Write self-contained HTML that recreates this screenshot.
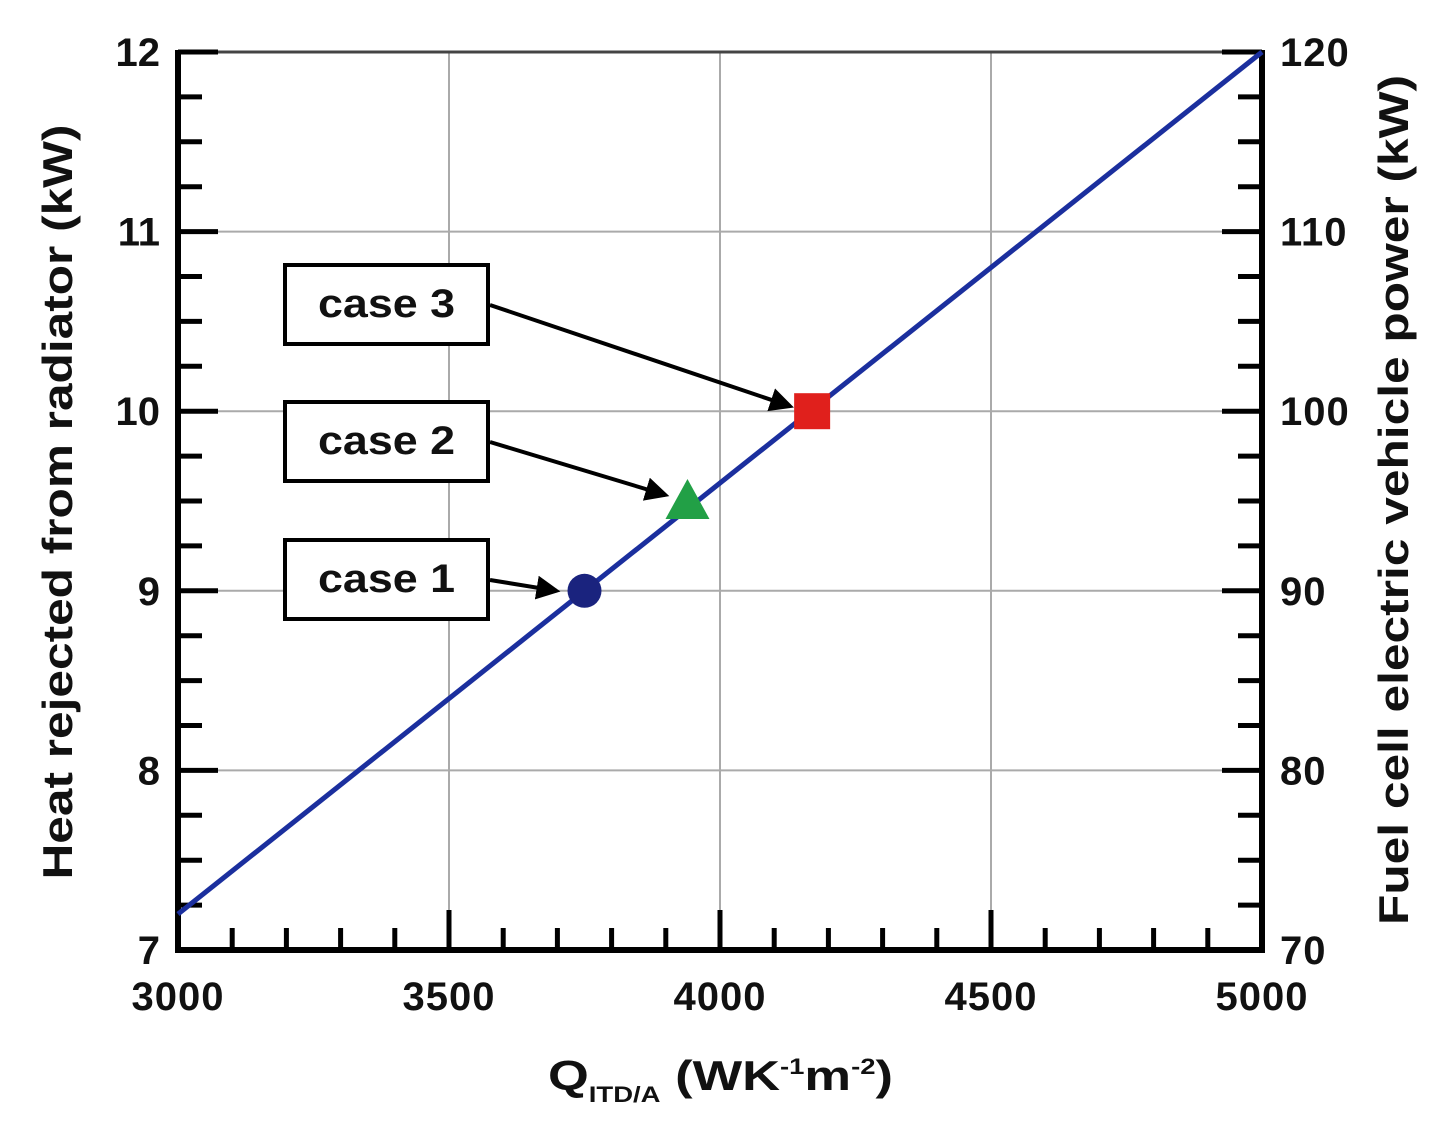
<!DOCTYPE html>
<html><head><meta charset="utf-8"><style>
body{margin:0;background:#fff;}
svg{display:block;font-family:"Liberation Sans",Arial,sans-serif;}
</style></head><body>
<svg id="chart" width="1440" height="1131" viewBox="0 0 1440 1131" xmlns="http://www.w3.org/2000/svg">
<g id="grid"></g>
<g id="axes"></g>
<g id="series"></g>
<g id="annot"></g>
<text x="548" y="1090" font-size="42" font-weight="bold" fill="#111" textLength="345" lengthAdjust="spacingAndGlyphs">Q<tspan font-size="22" dy="12">ITD/A</tspan><tspan dy="-12"> (WK</tspan><tspan font-size="22" dy="-16">-1</tspan><tspan dy="16">m</tspan><tspan font-size="22" dy="-16">-2</tspan><tspan dy="16">)</tspan></text>
<text transform="translate(72,502) rotate(-90)" text-anchor="middle" font-size="42" font-weight="bold" fill="#111" textLength="755" lengthAdjust="spacingAndGlyphs">Heat rejected from radiator (kW)</text>
<text transform="translate(1408,500) rotate(-90)" text-anchor="middle" font-size="42" font-weight="bold" fill="#111" textLength="850" lengthAdjust="spacingAndGlyphs">Fuel cell electric vehicle power (kW)</text>
</svg>
<script>
const xTicks=[3000,3500,4000,4500,5000];
const yTicks=[7,8,9,10,11,12];
const y2Ticks=[70,80,90,100,110,120];
const lineX=[3000,5000];
const lineY=[7.2,12];
const caseLabels=["case 1","case 2","case 3"];
const caseX=[3750,3940,4170];
const caseY=[9.0,9.5,10.0];
const caseColors=["#1a237e","#22a046","#e0201c"];
const NS="http://www.w3.org/2000/svg";
const X0=178,X1=1262,Y0=950,Y1=52;
const sx=v=>X0+(v-3000)/2000*(X1-X0);
const sy=v=>Y0-(v-7)/5*(Y0-Y1);
function mk(parent,tag,attrs){const e=document.createElementNS(NS,tag);for(const k in attrs)e.setAttribute(k,attrs[k]);document.getElementById(parent).appendChild(e);return e;}
xTicks.forEach(v=>{const e=mk('grid','line',{x1:sx(v),x2:sx(v),y1:Y1,y2:Y0,stroke:'#aaa','stroke-width':2});

});
yTicks.forEach(v=>{const e=mk('grid','line',{x1:X0,x2:X1,y1:sy(v),y2:sy(v),stroke:'#aaa','stroke-width':2});

});
let a=mk('axes','line',{x1:X0,x2:X0,y1:Y1-2,y2:Y0+3,stroke:'#000','stroke-width':6});


a=mk('axes','line',{x1:X1,x2:X1,y1:Y1-2,y2:Y0+3,stroke:'#000','stroke-width':6});


a=mk('axes','line',{x1:X0-3,x2:X1+3,y1:Y0,y2:Y0,stroke:'#000','stroke-width':6});


a=mk('axes','line',{x1:X0,x2:X1,y1:Y1,y2:Y1,stroke:'#444','stroke-width':3});


for(let v=3000;v<=5000;v+=100){const maj=v%500===0;const t=mk('axes','line',{x1:sx(v),x2:sx(v),y1:Y0,y2:Y0-(maj?40:22),stroke:'#000','stroke-width':5});

}
for(let v=7;v<=12.001;v+=0.25){const maj=Math.abs(v-Math.round(v))<1e-6;
let t=mk('axes','line',{x1:X0,x2:X0+(maj?40:24),y1:sy(v),y2:sy(v),stroke:'#000','stroke-width':5});


t=mk('axes','line',{x1:X1,x2:X1-(maj?40:24),y1:sy(v),y2:sy(v),stroke:'#000','stroke-width':5});

}
xTicks.forEach(v=>{const t=mk('axes','text',{x:sx(v),y:1010,'text-anchor':'middle','font-size':40,'font-weight':'bold',fill:'#111','letter-spacing':1});t.textContent=v;

});
yTicks.forEach(v=>{const t=mk('axes','text',{x:160,y:sy(v)+14,'text-anchor':'end','font-size':40,'font-weight':'bold',fill:'#111'});t.textContent=v;

});
y2Ticks.forEach((v,i)=>{const t=mk('axes','text',{x:1280,y:sy(yTicks[i])+14,'text-anchor':'start','font-size':40,'font-weight':'bold',fill:'#111','letter-spacing':1});t.textContent=v;

});
const ln=mk('series','line',{x1:sx(lineX[0]),y1:sy(lineY[0]),x2:sx(lineX[1]),y2:sy(lineY[1]),stroke:'#1b2f9e','stroke-width':5});


let m=mk('series','circle',{cx:sx(caseX[0]),cy:sy(caseY[0]),r:17,fill:caseColors[0]});


let tx=sx(caseX[1]),ty=sy(caseY[1]);
m=mk('series','polygon',{points:`${tx},${ty-22} ${tx-22},${ty+18} ${tx+22},${ty+18}`,fill:caseColors[1]});


tx=sx(caseX[2]);ty=sy(caseY[2]);
m=mk('series','rect',{x:tx-18,y:ty-18,width:36,height:36,fill:caseColors[2]});


mk('annot','defs',{}).innerHTML='<marker id="ah" markerWidth="6" markerHeight="6" refX="5" refY="3" orient="auto"><path d="M0,0 L6,3 L0,6 z" fill="#000"/></marker>';
const boxTops=[540,402,265];
const offs=[[-28,0],[-22,-6],[-22,-5]];
caseLabels.forEach((lab,i)=>{
const b=mk('annot','rect',{x:285,y:boxTops[i],width:203,height:79,fill:'#fff',stroke:'#000','stroke-width':4});


const t=mk('annot','text',{x:318,y:boxTops[i]+52,'font-size':40,'font-weight':'bold',fill:'#111',textLength:137,lengthAdjust:'spacingAndGlyphs'});t.textContent=lab;


const ar=mk('annot','line',{x1:490,y1:boxTops[i]+40,x2:sx(caseX[i])+offs[i][0],y2:sy(caseY[i])+offs[i][1],stroke:'#000','stroke-width':4,'marker-end':'url(#ah)'});


});
</script>
</body></html>
